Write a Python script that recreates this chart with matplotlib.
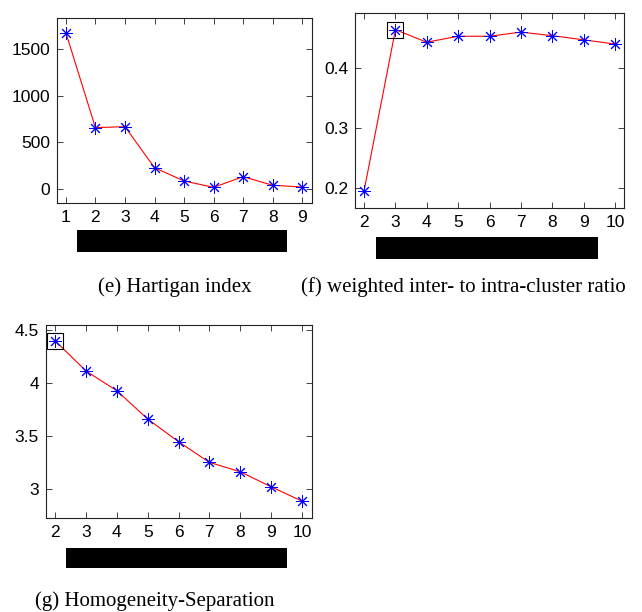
import matplotlib
matplotlib.use("Agg")
import matplotlib.pyplot as plt
from matplotlib.patches import Rectangle

# Hartigan index
k_e = [1, 2, 3, 4, 5, 6, 7, 8, 9]
hartigan = [1675, 657, 668, 228, 86, 18, 132, 40, 21]

# weighted inter- to intra-cluster ratio
k_f = [2, 3, 4, 5, 6, 7, 8, 9, 10]
ratio = [0.195, 0.465, 0.444, 0.454, 0.454, 0.461, 0.455, 0.448, 0.441]
best_f = 3

# Homogeneity-Separation
k_g = [2, 3, 4, 5, 6, 7, 8, 9, 10]
homsep = [4.40, 4.116, 3.93, 3.663, 3.449, 3.255, 3.166, 3.025, 2.89]
best_g = 2

captions = ["(e) Hartigan index",
            "(f) weighted inter- to intra-cluster ratio",
            "(g) Homogeneity-Separation"]

W, H = 642, 612
fig = plt.figure(figsize=(W / 100, H / 100), dpi=100)

tick_font = dict(family="Liberation Sans", size=12.5)
cap_font = dict(family="Liberation Serif", size=15)
asterisk = (8, 2, 0)


def style(ax):
    ax.tick_params(direction="in", top=True, right=True, length=4,
                   width=0.6, colors="#222222", labelcolor="black", pad=5)
    for lab in ax.get_xticklabels() + ax.get_yticklabels():
        lab.set_fontfamily(tick_font["family"])
        lab.set_fontsize(tick_font["size"])
    for s in ax.spines.values():
        s.set_linewidth(0.8)
        s.set_color("#222222")


def draw(ax, x, y):
    ax.plot(x, y, color="red", lw=0.8, zorder=2)
    ax.plot(x, y, ls="none", marker=asterisk, ms=9, mec="blue",
            mew=0.7, zorder=3)


# panel e
ax_e = fig.add_axes([57 / W, 1 - 203 / H, 255 / W, 185 / H])
draw(ax_e, k_e, hartigan)
ax_e.set_xlim(0.7, 9.33)
ax_e.set_ylim(-150, 1832)
ax_e.set_xticks(k_e)
ax_e.set_yticks([0, 500, 1000, 1500])
style(ax_e)

# panel f
ax_f = fig.add_axes([355 / W, 1 - 208 / H, 269 / W, 195 / H])
draw(ax_f, k_f, ratio)
i = k_f.index(best_f)
ax_f.plot([k_f[i]], [ratio[i]], ls="none", marker="s", ms=12, mfc="none",
          mec="black", mew=0.8, zorder=4)
ax_f.set_xlim(1.71, 10.29)
ax_f.set_ylim(0.166, 0.493)
ax_f.set_xticks(k_f)
ax_f.set_yticks([0.2, 0.3, 0.4])
style(ax_f)

# panel g
ax_g = fig.add_axes([46 / W, 1 - 518 / H, 266 / W, 193 / H])
draw(ax_g, k_g, homsep)
i = k_g.index(best_g)
ax_g.plot([k_g[i]], [homsep[i]], ls="none", marker="s", ms=12, mfc="none",
          mec="black", mew=0.8, zorder=4, clip_on=False)
ax_g.set_xlim(1.7, 10.33)
ax_g.set_ylim(2.73, 4.55)
ax_g.set_xticks(k_g)
ax_g.set_yticks([3, 3.5, 4, 4.5])
ax_g.set_yticklabels(["3", "3.5", "4", "4.5"])
style(ax_g)

# black bars under the x axes
for (x0, y0, x1, y1) in [(77, 230, 287, 252), (376, 237, 598, 259),
                         (66, 548, 287, 568)]:
    fig.patches.append(Rectangle((x0 / W, 1 - y1 / H), (x1 - x0) / W,
                                 (y1 - y0) / H, transform=fig.transFigure,
                                 facecolor="black", edgecolor="none"))

# captions
for txt, (cx, cy) in zip(captions, [(175, 287), (463, 287), (155, 601)]):
    fig.text(cx / W, 1 - cy / H, txt, ha="center", va="center", **cap_font)

fig.savefig("out.png", dpi=100, facecolor="white")
